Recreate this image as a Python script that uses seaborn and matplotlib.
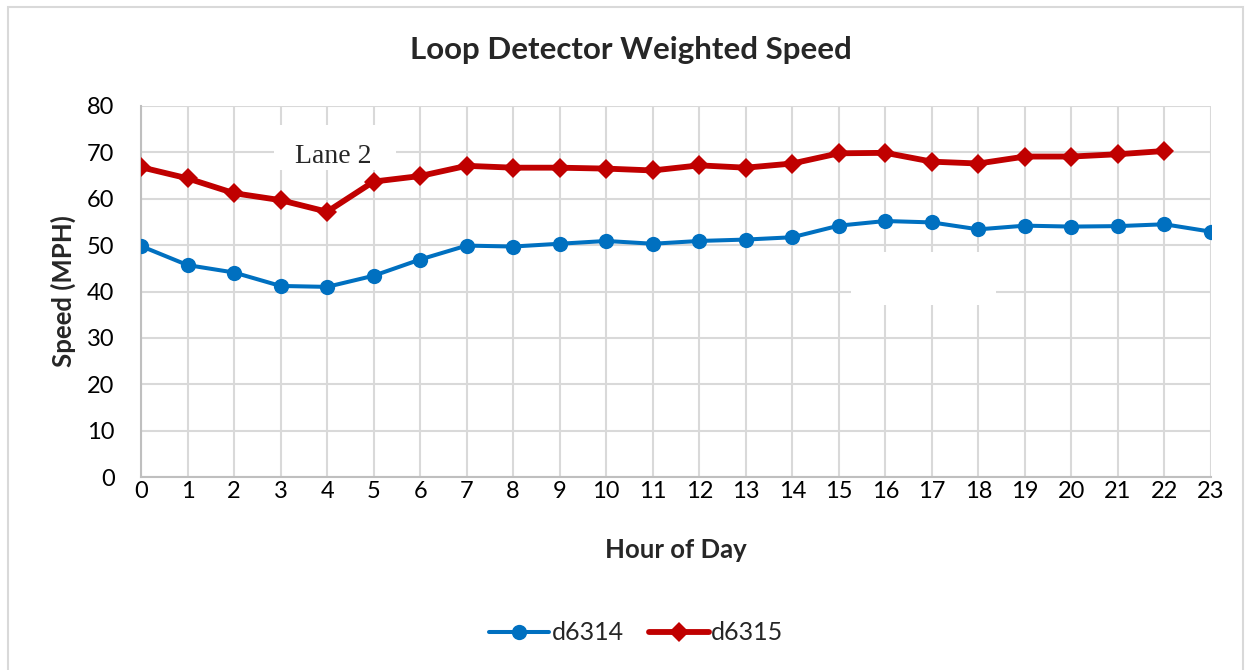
import numpy as np
import pandas as pd
import matplotlib
matplotlib.use("Agg")
import matplotlib.pyplot as plt
from matplotlib.patches import Rectangle
import seaborn as sns

# datos
horas = list(range(24))
d6314 = [49.8, 45.7, 44.1, 41.2, 41.0, 43.4, 46.9, 49.9, 49.7, 50.3, 50.9, 50.3,
         50.9, 51.2, 51.7, 54.2, 55.2, 54.9, 53.4, 54.2, 54.0, 54.1, 54.5, 52.9]
d6315 = [66.8, 64.4, 61.2, 59.7, 57.2, 63.7, 64.9, 67.1, 66.7, 66.7, 66.5, 66.1,
         67.2, 66.7, 67.6, 69.8, 69.9, 68.0, 67.6, 69.1, 69.1, 69.6, 70.3, np.nan]
yticks = [0, 10, 20, 30, 40, 50, 60, 70, 80]

df1 = pd.DataFrame({"hora": horas, "speed": d6314})
df2 = pd.DataFrame({"hora": horas, "speed": d6315}).dropna()

sns.set_theme(style="white")
plt.rcParams["font.family"] = ["Lato", "DejaVu Sans"]

fig = plt.figure(figsize=(12.5, 6.7), dpi=100)
ax = fig.add_axes([0.1128, 0.288, 0.856, 0.5538])

# borde del area del grafico
fig.patches.append(Rectangle((0.006, -0.01), 0.988, 1.0, transform=fig.transFigure,
                             fill=False, edgecolor="#d9d9d9", linewidth=1.5))

sns.lineplot(data=df1, x="hora", y="speed", ax=ax, color="#0070C0", linewidth=2.9,
             marker="o", markersize=11, markeredgewidth=0, label="d6314", zorder=4)
sns.lineplot(data=df2, x="hora", y="speed", ax=ax, color="#C00000", linewidth=4.2,
             marker="D", markersize=10.5, markeredgewidth=0, label="d6315", zorder=5)

ax.set_xlim(0, 23)
ax.set_ylim(0, 80)
ax.set_xticks(horas)
ax.set_yticks(yticks)
ax.tick_params(axis="both", labelsize=17, length=0, colors="black")
ax.tick_params(axis="x", pad=3)
ax.tick_params(axis="y", pad=19)
ax.grid(True, color="#d9d9d9", linewidth=1.5)
ax.set_axisbelow(True)
for s in ["top", "right"]:
    ax.spines[s].set_visible(False)
for s in ["left", "bottom"]:
    ax.spines[s].set_color("#bfbfbf")
    ax.spines[s].set_linewidth(1.5)

ax.set_xlabel("Hour of Day", fontsize=18.5, fontweight="bold", labelpad=26)
ax.set_ylabel("Speed (MPH)", fontsize=18.5, fontweight="bold", labelpad=8)
fig.text(0.505, 0.925, "Loop Detector Weighted Speed", ha="center", va="center",
         fontsize=22.5, fontweight="bold")

# cuadros blancos sobre la rejilla
ax.add_patch(Rectangle((2.858, 66.3), 2.62, 9.7, facecolor="white", edgecolor="none", zorder=2))
ax.text(4.13, 69.1, "Lane 2", ha="center", va="center", fontsize=20,
        family=["Liberation Serif"], zorder=3)
ax.add_patch(Rectangle((15.26, 37.1), 3.12, 11.5, facecolor="white", edgecolor="none", zorder=2))

ax.legend(loc="center", bbox_to_anchor=(0.463, -0.42), ncol=2, frameon=False,
          fontsize=18, handlelength=2.4, columnspacing=1.0, handletextpad=0.1)

fig.savefig("out.png", dpi=100)
